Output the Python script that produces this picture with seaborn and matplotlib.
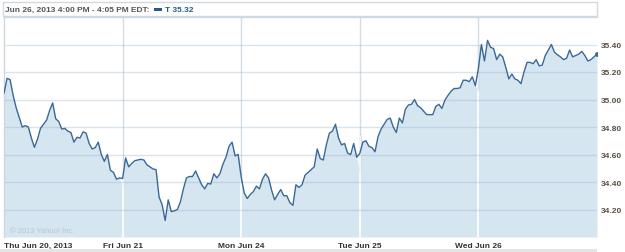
import numpy as np
import pandas as pd
import matplotlib
matplotlib.use("Agg")
import matplotlib.pyplot as plt
from matplotlib.patches import Rectangle
import seaborn as sns

# ---- data (AT&T "T", 10-minute samples, 9:30..16:00 each day) ----
day_labels = ["Thu Jun 20, 2013", "Fri Jun 21", "Mon Jun 24", "Tue Jun 25", "Wed Jun 26"]
minutes = list(range(0, 391, 10))

thu_jun20 = [35.045, 35.154, 35.145, 35.03, 34.94, 34.87, 34.80, 34.81, 34.80, 34.72,
             34.652, 34.71, 34.79, 34.82, 34.85, 34.92, 34.975, 34.86, 34.84, 34.785,
             34.79, 34.77, 34.76, 34.69, 34.725, 34.72, 34.765, 34.755, 34.68, 34.64,
             34.65, 34.69, 34.60, 34.55, 34.60, 34.485, 34.47, 34.42, 34.43, 34.36]
fri_jun21 = [34.49, 34.575, 34.51, 34.535, 34.555, 34.56, 34.565, 34.56, 34.525, 34.51,
             34.495, 34.49, 34.29, 34.235, 34.12, 34.27, 34.185, 34.19, 34.20, 34.255,
             34.35, 34.43, 34.44, 34.44, 34.48, 34.43, 34.38, 34.35, 34.39, 34.385,
             34.46, 34.43, 34.46, 34.53, 34.58, 34.66, 34.69, 34.59, 34.60, 34.47]
mon_jun24 = [34.40, 34.32, 34.28, 34.31, 34.33, 34.37, 34.35, 34.42, 34.46, 34.43,
             34.34, 34.27, 34.31, 34.345, 34.30, 34.30, 34.25, 34.23, 34.38, 34.36,
             34.38, 34.45, 34.47, 34.49, 34.51, 34.64, 34.57, 34.56, 34.67, 34.755,
             34.77, 34.82, 34.72, 34.67, 34.68, 34.61, 34.60, 34.68, 34.58, 34.46]
tue_jun25 = [34.756, 34.69, 34.70, 34.66, 34.65, 34.62, 34.73, 34.785, 34.82, 34.855,
             34.865, 34.80, 34.76, 34.865, 34.83, 34.93, 34.96, 34.965, 35.00, 34.955,
             34.94, 34.915, 34.89, 34.89, 34.89, 34.95, 34.965, 34.935, 34.995, 35.03,
             35.06, 35.08, 35.08, 35.085, 35.14, 35.14, 35.13, 35.165, 35.10, 35.064]
wed_jun26 = [35.39, 35.40, 35.28, 35.43, 35.38, 35.37, 35.29, 35.33, 35.31, 35.234,
             35.15, 35.185, 35.15, 35.14, 35.115, 35.20, 35.27, 35.27, 35.26, 35.29,
             35.245, 35.25, 35.32, 35.36, 35.40, 35.345, 35.325, 35.31, 35.29, 35.30,
             35.36, 35.31, 35.32, 35.33, 35.35, 35.32, 35.28, 35.29, 35.31, 35.33]
y_ticks = [34.20, 34.40, 34.60, 34.80, 35.00, 35.20, 35.40]
header_text = "Jun 26, 2013 4:00 PM - 4:05 PM EDT:"
legend_text = "T 35.32"
copyright_text = "\u00a9 2013 Yahoo! Inc."

days = [thu_jun20, fri_jun21, mon_jun24, tue_jun25, wed_jun26]
rows = []
for d, vals in enumerate(days):
    for m, v in zip(minutes, vals):
        rows.append({"pos": d * 390 + m, "price": v})
df = pd.DataFrame(rows)

sns.set_style("white")
plt.rcParams["font.family"] = ["Liberation Sans", "DejaVu Sans"]

W, H = 625, 253
fig = plt.figure(figsize=(W / 100, H / 100), dpi=100)
L, R, T, B = 4, 597, 18, 238
ax = fig.add_axes([L / W, 1 - B / H, (R - L) / W, (B - T) / H])

line_col = "#3a6897"
fill_col = "#d6e6f1"
ymin, ymax = 34.0, 35.6
xmax = 5 * 390

# vertical gridlines (grey above fill)
for d in range(1, 5):
    ax.axvline(d * 390, color="#d2dce5", lw=1.0, zorder=0.5)

poly = ax.fill_between(df["pos"], df["price"], ymin, color=fill_col, lw=0, zorder=1)

# vertical gridlines white inside the fill
for d in range(1, 5):
    vl = ax.axvline(d * 390, color="white", lw=1.2, zorder=1.5)
    vl.set_clip_path(poly.get_paths()[0], ax.transData)

for yv in y_ticks:
    ax.axhline(yv, color=(0.55, 0.68, 0.80), alpha=0.32, lw=1.0, zorder=1.6)

sns.lineplot(data=df, x="pos", y="price", ax=ax, color=line_col, lw=1.0, zorder=3)
ax.plot(df["pos"].iloc[-1], df["price"].iloc[-1], "o", color=line_col, ms=2.5, zorder=4)

ax.set_xlim(0, xmax)
ax.set_ylim(ymin, ymax)
ax.set_xlabel("")
ax.set_ylabel("")

ax.set_xticks([d * 390 for d in range(5)])
ax.set_xticklabels(day_labels)
ax.set_yticks(y_ticks)
ax.set_yticklabels([f"{v:.2f}" for v in y_ticks])
ax.yaxis.tick_right()
ax.tick_params(axis="x", length=0, pad=3.5, labelsize=6, labelcolor="#333333")
ax.tick_params(axis="y", length=0, pad=2.5, labelsize=6, labelcolor="#5a5046")
for lab in ax.get_xticklabels() + ax.get_yticklabels():
    lab.set_fontweight("bold")
ax.get_xticklabels()[0].set_horizontalalignment("left")

for s in ["right", "bottom"]:
    ax.spines[s].set_visible(False)
ax.spines["left"].set_color("#cdd7e0")
ax.spines["top"].set_color("#d0d8e0")
ax.spines["left"].set_linewidth(1.0)
ax.spines["top"].set_linewidth(1.0)

ax.text(6 / (R - L) * 1.0, 1 - (231.5 - T) / (B - T), copyright_text, transform=ax.transAxes,
        fontsize=5.4, color="#b9c5d1", va="center", ha="left", zorder=2)

# header box
fig.patches.append(Rectangle((3 / W, 1 - 17 / H), (R - 3) / W, 14 / H, transform=fig.transFigure,
                             facecolor="white", edgecolor="#d0d8e0", lw=1.0))
fig.text(5 / W, 1 - 10.5 / H, header_text, fontsize=6, fontweight="bold", color="#555555",
         va="center", ha="left")
fig.patches.append(Rectangle((154 / W, 1 - 12 / H), 8 / W, 3 / H, transform=fig.transFigure,
                             facecolor="#2a5a8c", edgecolor="none"))
fig.text(165 / W, 1 - 10.5 / H, legend_text, fontsize=6, fontweight="bold", color="#2a5a8c",
         va="center", ha="left")

# bottom grey band
fig.patches.append(Rectangle((0, 0), R / W, 3 / H, transform=fig.transFigure,
                             facecolor="#e4e4e4", edgecolor="none"))

fig.savefig("out.png", dpi=100)
